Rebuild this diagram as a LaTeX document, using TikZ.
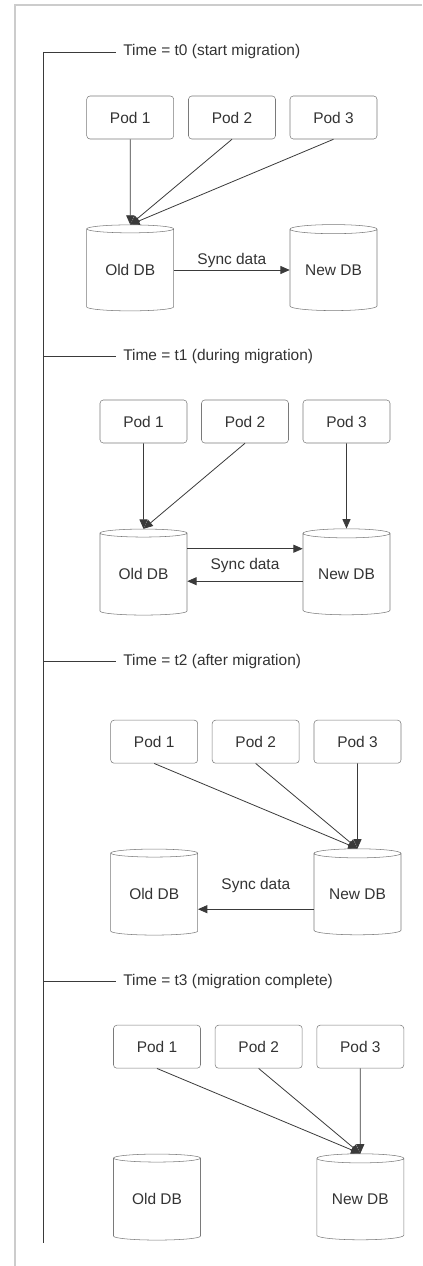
\documentclass[tikz,border=0pt]{standalone}
\usepackage{fontspec}
\setmainfont{Liberation Sans}
\usepackage{tikz}
\usetikzlibrary{calc, positioning}
\usetikzlibrary{shapes.geometric, arrows.meta}

\definecolor{FrameGray}{HTML}{CCCCCC}
\definecolor{LineGray}{HTML}{3A3A3A}
\definecolor{BoxGray}{HTML}{7A7A7A}
\definecolor{TextGray}{HTML}{333333}

\tikzset{
    pod/.style={draw=BoxGray, rounded corners=2.5pt, minimum width=65.25pt,
        minimum height=32.25pt, inner sep=0pt, text=TextGray},
    db/.style={cylinder, shape border rotate=90, draw=BoxGray, shape aspect=0.16,
        minimum width=65.25pt, minimum height=64.5pt, inner sep=0pt, text=TextGray},
    flow/.style={LineGray, line width=0.6pt, -{Triangle[length=7pt, width=6pt]}},
    tick/.style={LineGray, line width=0.6pt},
    timelabel/.style={anchor=west, inner sep=0pt, text=TextGray},
    synclabel/.style={inner sep=1pt, text=TextGray}
}

\begin{document}
\begin{tikzpicture}[x=0.75pt, y=-0.75pt, font=\fontsize{11.6}{14}\selectfont]
    \useasboundingbox (0,0) rectangle (422,1266);

    % frame and time axis
    \draw[FrameGray, line width=1.5pt] (14.5,1266) -- (14.5,5) -- (422,5);
    \draw[tick] (43,52) -- (43,1243);

    % === t0 ===
    \draw[tick] (43,52) -- (116,52);
    \node[timelabel] (lbl0) at (123,52) {Time = t0 (start migration)};
    \node[pod] (pa0) at (130.2,117.5) {Pod 1};
    \node[pod] (pb0) at (232,117.5) {Pod 2};
    \node[pod] (pc0) at (333.5,117.5) {Pod 3};
    \node[db] (old0) at (130.2,270) {Old DB};
    \node[db] (new0) at (333.5,270) {New DB};
    \draw[flow] (pa0.south) -- (old0.north);
    \draw[flow] (pb0.south) -- (old0.north);
    \draw[flow] (pc0.south) -- (old0.north);
    \draw[flow] (old0.east) -- (new0.west) node[synclabel, midway, above=0.5pt] {Sync data};

    % === t1 ===
    \draw[tick] (43,356.7) -- (116,356.7);
    \node[timelabel] (lbl1) at (123,356.7) {Time = t1 (during migration)};
    \node[pod] (pa1) at (143.5,421.5) {Pod 1};
    \node[pod] (pb1) at (245,421.5) {Pod 2};
    \node[pod] (pc1) at (346.5,421.5) {Pod 3};
    \node[db] (old1) at (143.5,574.2) {Old DB};
    \node[db] (new1) at (346.5,574.2) {New DB};
    \draw[flow] (pa1.south) -- (old1.north);
    \draw[flow] (pb1.south) -- (old1.north);
    \draw[flow] (pc1.south) -- (new1.north);
    \draw[flow] ([yshift=19.1pt]old1.east) -- ([yshift=19.1pt]new1.west);
    \draw[flow] ([yshift=-5.25pt]new1.west) -- ([yshift=-5.25pt]old1.east)
        node[synclabel, midway, above=5pt] {Sync data};

    % === t2 ===
    \draw[tick] (43,661.7) -- (116,661.7);
    \node[timelabel] (lbl2) at (123,661.7) {Time = t2 (after migration)};
    \node[pod] (pa2) at (154.2,741.7) {Pod 1};
    \node[pod] (pb2) at (255.7,741.7) {Pod 2};
    \node[pod] (pc2) at (357.5,741.7) {Pod 3};
    \node[db] (old2) at (154.2,894.2) {Old DB};
    \node[db] (new2) at (357.5,894.2) {New DB};
    \draw[flow] (pa2.south) -- (new2.north);
    \draw[flow] (pb2.south) -- (new2.north);
    \draw[flow] (pc2.south) -- (new2.north);
    \draw[flow] ([yshift=-11.25pt]new2.west) -- ([yshift=-11.25pt]old2.east)
        node[synclabel, midway, above=11pt] {Sync data};

    % === t3 ===
    \draw[tick] (43,981.7) -- (116,981.7);
    \node[timelabel] (lbl3) at (123,981.7) {Time = t3 (migration complete)};
    \node[pod] (pa3) at (157,1046.7) {Pod 1};
    \node[pod] (pb3) at (258.7,1046.7) {Pod 2};
    \node[pod] (pc3) at (360.3,1046.7) {Pod 3};
    \node[db] (old3) at (157,1199.2) {Old DB};
    \node[db] (new3) at (360.3,1199.2) {New DB};
    \draw[flow] (pa3.south) -- (new3.north);
    \draw[flow] (pb3.south) -- (new3.north);
    \draw[flow] (pc3.south) -- (new3.north);
\end{tikzpicture}
\end{document}
